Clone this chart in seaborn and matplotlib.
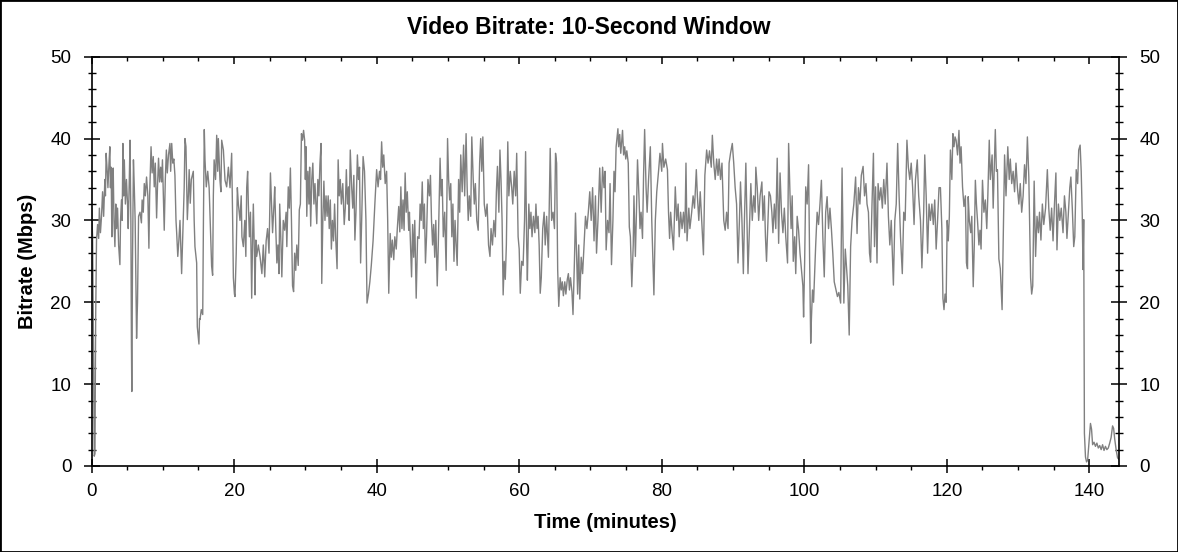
import numpy as np
import pandas as pd
import matplotlib
matplotlib.use("Agg")
import matplotlib.pyplot as plt
import seaborn as sns
from matplotlib.ticker import MultipleLocator
from matplotlib.patches import Rectangle

# (minute, Mbps) pairs, one block per ~24 minutes
part1 = [
    (0.0, 31.5), (0.15, 28), (0.3, 12), (0.38, 1.2), (0.48, 1.5), (0.58, 18),
    (0.7, 27.6), (0.85, 29.5), (1.0, 27.8), (1.1, 31.5), (1.25, 28.5), (1.4, 30.5),
    (1.55, 33.5), (1.7, 30.5), (1.87, 35), (1.95, 33), (2.05, 38.2), (2.2, 36),
    (2.3, 34), (2.45, 37), (2.57, 39), (2.65, 34), (2.75, 36.5), (2.85, 28),
    (2.95, 33), (3.04, 36.4), (3.15, 30), (3.28, 26.8), (3.4, 32), (3.51, 29),
    (3.65, 31.5), (3.8, 27), (3.98, 24.6), (4.07, 30), (4.2, 32.5), (4.3, 30),
    (4.4, 39.4), (4.5, 33), (4.6, 37.4), (4.75, 32), (4.9, 35), (5.05, 32),
    (5.15, 29), (5.3, 35), (5.4, 39.8), (5.52, 30), (5.6, 14.6), (5.65, 9.1),
    (5.75, 25), (5.88, 37.4), (6.0, 34), (6.12, 30), (6.32, 15.6), (6.45, 20),
    (6.6, 30.5), (6.8, 31), (7.0, 29.7), (7.1, 32.5), (7.26, 31), (7.4, 34.5),
    (7.55, 33), (7.72, 35.3), (7.9, 33), (8.05, 26.6), (8.15, 33), (8.25, 36),
    (8.35, 39), (8.5, 35.8), (8.66, 37.8), (8.8, 34.1), (8.95, 37), (9.13, 30.3),
    (9.25, 34), (9.4, 37.6), (9.55, 34.7), (9.7, 36.5), (9.83, 34.7), (9.95, 37.4),
    (10.07, 33), (10.2, 28.8), (10.35, 35), (10.5, 38.6), (10.63, 35.8), (10.8, 38),
    (11.0, 39.4), (11.1, 36), (11.25, 39.4), (11.4, 37), (11.55, 37.5), (11.7, 35.5),
    (11.85, 30), (11.95, 28.4), (12.1, 25.6), (12.25, 27.5), (12.41, 30), (12.55, 26),
    (12.64, 23.5), (12.75, 26.8), (12.87, 30), (13.0, 34), (13.11, 40), (13.25, 39),
    (13.44, 30.1), (13.58, 33), (13.7, 36.2), (13.85, 32.1), (14.0, 35), (14.28, 36),
    (14.4, 30), (14.51, 26.8), (14.75, 24.8), (14.84, 17), (14.95, 16), (15.07, 14.9),
    (15.15, 18), (15.22, 17.9), (15.4, 19.1), (15.6, 18.5), (15.7, 30), (15.82, 41.1),
    (15.92, 37.4), (16.1, 34.1), (16.3, 36), (16.5, 34), (16.85, 24.4), (16.99, 23.3),
    (17.09, 33), (17.2, 37.4), (17.4, 35), (17.56, 40.4), (17.7, 36), (17.79, 40),
    (18.02, 34.9), (18.15, 33.5), (18.26, 39.8), (18.5, 38.6), (18.73, 34.9), (18.96, 34.1),
    (19.2, 36.5), (19.43, 34), (19.66, 38.2), (19.8, 30), (19.9, 23), (20.05, 21),
    (20.13, 20.7), (20.3, 26), (20.46, 34), (20.6, 32), (20.83, 30), (21.0, 33),
    (21.1, 28), (21.3, 26.8), (21.5, 30), (21.65, 25.6), (21.77, 34), (21.9, 36),
    (22.0, 32), (22.15, 28), (22.3, 31), (22.47, 20.5), (22.6, 28), (22.7, 32),
    (22.85, 26), (22.94, 20.9), (23.05, 27.6), (23.17, 25.6), (23.4, 27), (23.64, 25.6),
]

part2 = [
    (23.9, 23.5), (24.1, 27), (24.3, 23.1), (24.5, 27.5), (24.7, 29), (24.9, 26),
    (25.1, 35.8), (25.3, 31), (25.4, 28.5), (25.6, 32), (25.7, 34.1), (25.85, 29),
    (26.0, 24.8), (26.15, 27), (26.3, 23.5), (26.4, 32), (26.55, 28), (26.7, 23.1),
    (26.9, 30), (27.1, 28.8), (27.3, 31), (27.4, 26.8), (27.6, 34.1), (27.75, 31.5),
    (27.9, 36.4), (28.05, 30), (28.2, 22), (28.35, 21.3), (28.5, 26), (28.65, 23.9),
    (28.8, 27), (29.0, 24.5), (29.15, 31.3), (29.3, 32), (29.45, 40.6), (29.6, 39.8),
    (29.75, 41), (29.9, 39.8), (30.0, 35), (30.1, 39), (30.2, 30.5), (30.35, 36),
    (30.5, 32), (30.6, 36.5), (30.75, 29.3), (30.9, 35), (31.05, 37), (31.2, 32),
    (31.35, 34.5), (31.6, 29.6), (31.75, 35), (31.9, 33), (32.05, 37), (32.2, 39.4),
    (32.3, 22.3), (32.45, 30), (32.6, 34.8), (32.75, 30), (32.9, 33), (33.05, 30.5),
    (33.2, 33), (33.35, 29), (33.5, 32.5), (33.65, 26.5), (33.8, 30), (33.95, 27.5),
    (34.1, 32), (34.25, 28), (34.45, 24.1), (34.6, 37.4), (34.75, 33), (34.9, 35),
    (35.05, 32), (35.25, 34.5), (35.45, 29.5), (35.6, 31.5), (35.75, 36.2), (35.9, 32),
    (36.05, 34.1), (36.15, 30), (36.3, 38.6), (36.5, 34), (36.65, 31.5), (36.8, 35.5),
    (36.95, 27.6), (37.1, 31), (37.3, 38), (37.45, 35), (37.6, 36.5), (37.75, 24.8),
    (37.9, 30), (38.1, 37.8), (38.3, 36), (38.5, 30), (38.65, 19.9), (38.85, 21),
    (39.05, 22.5), (39.25, 24.5), (39.5, 27.5), (39.75, 32), (40.0, 36.2), (40.2, 34.1),
    (40.4, 36), (40.55, 35), (40.7, 39.6), (40.85, 36.5), (41.0, 38), (41.2, 34.5),
    (41.4, 36), (41.55, 30), (41.7, 21.1), (41.9, 28.4), (42.05, 25.5), (42.2, 27.6),
    (42.4, 25.2), (42.55, 28), (42.75, 26.5), (42.9, 29), (43.1, 31.7), (43.25, 28.6),
    (43.4, 34.1), (43.55, 29), (43.7, 32.5), (43.85, 28.8), (44.0, 35.8), (44.15, 31),
    (44.3, 33.5), (44.5, 28.8), (44.6, 31), (44.9, 23.1), (45.05, 29.5), (45.2, 25.5),
    (45.35, 30), (45.55, 20.5), (45.75, 28), (45.95, 27.8), (46.1, 32), (46.25, 30),
    (46.4, 34.7), (46.55, 29), (46.7, 32), (46.85, 24.8), (47.0, 28), (47.2, 35),
    (47.4, 33),
]

part3 = [
    (47.55, 35.5), (47.7, 30), (47.85, 27), (48.0, 29.5), (48.15, 25.5), (48.3, 30),
    (48.5, 22), (48.65, 27), (48.9, 37.6), (49.05, 33), (49.2, 35), (49.35, 28),
    (49.55, 31), (49.75, 23.9), (49.95, 40), (50.1, 35), (50.25, 32.5), (50.4, 34.5),
    (50.55, 28), (50.7, 32), (50.85, 25), (51.0, 30), (51.15, 27), (51.3, 24.5),
    (51.5, 35), (51.65, 31), (51.8, 38), (52.0, 33.5), (52.2, 39.2), (52.35, 33),
    (52.55, 40.6), (52.7, 34), (52.85, 30), (53.0, 33), (53.2, 30.5), (53.35, 40.2),
    (53.55, 35), (53.7, 32), (53.85, 34.5), (54.05, 30), (54.25, 28.8), (54.45, 37),
    (54.6, 40), (54.75, 36), (54.9, 40.2), (55.1, 32), (55.3, 30.5), (55.5, 32),
    (55.7, 27), (55.9, 25.6), (56.05, 29), (56.25, 27), (56.45, 30), (56.65, 28),
    (56.8, 33.5), (56.95, 36.6), (57.15, 31), (57.3, 38.6), (57.45, 35), (57.6, 30),
    (57.75, 20.9), (57.9, 25), (58.05, 22.8), (58.2, 27), (58.4, 39.6), (58.55, 33),
    (58.75, 36), (58.95, 34), (59.1, 32), (59.3, 36), (59.5, 33), (59.65, 38.2),
    (59.85, 28), (60.0, 26.5), (60.15, 21.1), (60.35, 25), (60.55, 24.5), (60.75, 30),
    (60.9, 38.4), (61.05, 27), (61.15, 22.7), (61.35, 32), (61.5, 29), (61.65, 31),
    (61.8, 28), (62.0, 30.5), (62.2, 28.5), (62.35, 32), (62.5, 29), (62.65, 30.5),
    (62.8, 27), (62.95, 21.1), (63.1, 23), (63.3, 29), (63.5, 31), (63.65, 27),
    (63.85, 30.5), (64.1, 25.5), (64.35, 38.8), (64.55, 30), (64.75, 31), (64.95, 29),
    (65.1, 38.2), (65.25, 37), (65.4, 24), (65.55, 19.5), (65.75, 23), (65.9, 21.5),
    (66.05, 22.5), (66.2, 20.8), (66.4, 22.5), (66.55, 21), (66.75, 22.8), (66.9, 23.5),
    (67.05, 21.5), (67.2, 23), (67.4, 21.3), (67.55, 18.5), (67.75, 25), (67.9, 30.9),
    (68.05, 26), (68.2, 21), (68.35, 27), (68.5, 20.4), (68.7, 25.5), (68.9, 23.5),
    (69.1, 27), (69.3, 30.5), (69.5, 29), (69.7, 31), (69.9, 33.5), (70.1, 30),
    (70.3, 34), (70.5, 27.5), (70.7, 33), (70.85, 26), (71.05, 30), (71.3, 36.4),
]

part4 = [
    (71.5, 31), (71.7, 36.5), (71.9, 34), (72.05, 36), (72.2, 26.4), (72.4, 30),
    (72.6, 28.5), (72.75, 34.5), (72.95, 24.6), (73.15, 30), (73.3, 36), (73.45, 33.5),
    (73.6, 39), (73.85, 41.2), (73.95, 39), (74.1, 40.5), (74.25, 38.2), (74.4, 39.8),
    (74.5, 41), (74.65, 38), (74.8, 39), (74.95, 37.5), (75.1, 38.5), (75.3, 37),
    (75.45, 29.2), (75.6, 28), (75.8, 21.9), (76.0, 27), (76.1, 33), (76.3, 25.6),
    (76.45, 31), (76.6, 37.4), (76.8, 33), (76.95, 29), (77.1, 31), (77.3, 27.8),
    (77.45, 35.5), (77.6, 41.1), (77.8, 34), (77.95, 31), (78.15, 35), (78.4, 39),
    (78.6, 30), (78.9, 20.9), (79.1, 30), (79.3, 33.5), (79.55, 36), (79.75, 38.2),
    (80.0, 36), (80.1, 39.4), (80.3, 36.5), (80.55, 37.5), (80.8, 36.2), (80.95, 31),
    (81.1, 27.8), (81.25, 31), (81.45, 28.5), (81.65, 26.4), (81.9, 34.1), (82.1, 30),
    (82.3, 32), (82.45, 28), (82.65, 31), (82.85, 29), (83.05, 31), (83.25, 28.5),
    (83.4, 37), (83.55, 27.5), (83.8, 31.5), (83.95, 29), (84.2, 31), (84.4, 33),
    (84.6, 31.5), (84.85, 36.2), (85.0, 33), (85.2, 30), (85.4, 33.5), (85.6, 30),
    (85.85, 25.8), (86.05, 35.5), (86.3, 38.6), (86.5, 37), (86.7, 38.5), (86.95, 36.5),
    (87.1, 40.4), (87.3, 37), (87.5, 35), (87.7, 37.5), (87.9, 35.5), (88.05, 37.5),
    (88.25, 35), (88.45, 37), (88.7, 30), (88.9, 28.8), (89.1, 31), (89.3, 29),
    (89.45, 37), (89.65, 38.2), (89.9, 39.4), (90.1, 37), (90.3, 34), (90.5, 32),
    (90.7, 24.8), (90.9, 30), (91.05, 34.7), (91.25, 30), (91.45, 23.5), (91.6, 30),
    (91.8, 37), (91.95, 30), (92.1, 23.5), (92.3, 29), (92.5, 34.5), (92.7, 30),
    (92.9, 33), (93.1, 31), (93.2, 36.5), (93.4, 34), (93.6, 30), (93.8, 33),
    (94.05, 34.7), (94.2, 30), (94.4, 33), (94.55, 28), (94.7, 25), (94.9, 30),
    (95.05, 33.5), (95.25, 33),
]

part5 = [
    (95.45, 31), (95.6, 28.5), (95.8, 32), (96.0, 29), (96.2, 37.6), (96.4, 27.2),
    (96.6, 35.8), (96.8, 31), (97.0, 28.5), (97.2, 31.5), (97.4, 28), (97.65, 24.8),
    (97.8, 39.4), (98.0, 33), (98.15, 29), (98.3, 33), (98.45, 25), (98.65, 28),
    (98.8, 23.5), (99.0, 30.5), (99.2, 28.8), (99.4, 26), (99.6, 24), (99.8, 22),
    (99.9, 18.2), (100.05, 25), (100.2, 34.1), (100.4, 32), (100.6, 36.8), (100.75, 25),
    (100.9, 15), (101.0, 18), (101.15, 21.5), (101.3, 20), (101.45, 23.5), (101.6, 27),
    (101.8, 31), (102.0, 29.5), (102.2, 32), (102.4, 34.9), (102.6, 28), (102.8, 23.1),
    (103.0, 31), (103.2, 32.9), (103.4, 29), (103.6, 31.5), (103.8, 29), (104.0, 26),
    (104.2, 22.5), (104.45, 21.5), (104.65, 20.7), (104.85, 21.2), (105.1, 19.9), (105.3, 36.4),
    (105.55, 19.9), (105.75, 26.5), (105.95, 24), (106.1, 22), (106.3, 16), (106.5, 26.8),
    (106.7, 30), (106.95, 32), (107.2, 35.3), (107.4, 28.4), (107.6, 34), (107.8, 32),
    (108.0, 35.5), (108.25, 36.6), (108.45, 33), (108.65, 34.5), (108.8, 32), (109.0, 31),
    (109.15, 26), (109.3, 24.9), (109.5, 32), (109.7, 38.2), (109.85, 26.8), (110.0, 34.1),
    (110.2, 24.8), (110.35, 34.5), (110.55, 32.5), (110.75, 34), (110.95, 31.5), (111.15, 35),
    (111.35, 32), (111.6, 37), (111.8, 30.5), (112.0, 27), (112.2, 30), (112.5, 22.1),
    (112.7, 30), (112.9, 32), (113.1, 39.4), (113.3, 33), (113.5, 28), (113.75, 23.5),
    (113.95, 31), (114.15, 30), (114.4, 39.8), (114.6, 36.5), (114.8, 35), (115.0, 37),
    (115.2, 34), (115.4, 29.5), (115.6, 35), (115.85, 37.4), (116.05, 33), (116.3, 30),
    (116.5, 24.2), (116.75, 31), (116.9, 38), (117.1, 33), (117.3, 26), (117.5, 32),
    (117.7, 30), (117.9, 32), (118.1, 29.5), (118.3, 32.5), (118.5, 26.5), (118.7, 30),
    (118.9, 34),
]

part6 = [
    (119.1, 34), (119.3, 29), (119.45, 20.5), (119.6, 19.1), (119.75, 21), (119.9, 20),
    (120.05, 30), (120.2, 27.5), (120.35, 30.5), (120.5, 38.6), (120.7, 35), (120.85, 40.6),
    (121.0, 39), (121.15, 40.2), (121.3, 39.8), (121.5, 38), (121.7, 41), (121.85, 37),
    (122.0, 39), (122.2, 34.1), (122.4, 31.7), (122.6, 33), (122.75, 24.8), (122.9, 24.1),
    (123.0, 32.9), (123.15, 30), (123.35, 28.5), (123.5, 30.5), (123.7, 21.9), (123.85, 27),
    (124.0, 34.9), (124.15, 32), (124.3, 30), (124.5, 27), (124.65, 28.8), (124.8, 26.5),
    (125.0, 34.9), (125.2, 31), (125.4, 32.5), (125.6, 29), (125.75, 33), (125.95, 39.8),
    (126.1, 35), (126.35, 38), (126.5, 31.5), (126.8, 41.1), (126.95, 36), (127.1, 36.2),
    (127.3, 25.3), (127.5, 24.1), (127.75, 19.1), (127.95, 30), (128.1, 38), (128.3, 33),
    (128.55, 39), (128.75, 35), (128.9, 37.5), (129.1, 34.5), (129.3, 36), (129.5, 33.5),
    (129.7, 37), (129.9, 34), (130.1, 32), (130.3, 34.5), (130.5, 31), (130.7, 33),
    (130.9, 36.8), (131.1, 34.5), (131.3, 40.2), (131.5, 35.3), (131.75, 23), (131.9, 21),
    (132.05, 22), (132.25, 34.8), (132.45, 25.6), (132.65, 30.5), (132.85, 28.5), (133.0, 31),
    (133.2, 27.6), (133.4, 32), (133.6, 29.5), (133.85, 31.5), (134.1, 36.2), (134.3, 31.5),
    (134.5, 28.8), (134.7, 31.5), (134.9, 27.5), (135.1, 32), (135.3, 35.8), (135.45, 26.4),
    (135.65, 32), (135.85, 30), (136.05, 31.5), (136.3, 28.5), (136.5, 33), (136.7, 31),
    (136.85, 27.8), (137.05, 31), (137.25, 34), (137.4, 35.3), (137.6, 31.5), (137.8, 26.8),
    (137.95, 28), (138.15, 36.2), (138.35, 34.5), (138.5, 38.6), (138.7, 39.2), (138.85, 36),
    (139.0, 30.5), (139.1, 24), (139.2, 30.1), (139.3, 4), (139.45, 1.1), (139.6, 0.5),
    (139.75, 0.7), (139.95, 3), (140.15, 5.2), (140.3, 4.5), (140.45, 2.6), (140.65, 2.9),
    (140.85, 2.4), (141.05, 2.8), (141.25, 2.2), (141.45, 2.5), (141.65, 2.0), (141.85, 2.6),
    (142.05, 1.9), (142.25, 2.4), (142.45, 2.0), (142.65, 2.2), (142.85, 2.8), (143.05, 3.5),
    (143.25, 4.9), (143.4, 4.6), (143.55, 3.3), (143.75, 2.0), (143.95, 1.0), (144.15, 0.8),
    (144.3, 1.2),
]

x_ticks = [0, 20, 40, 60, 80, 100, 120, 140]
y_ticks = [0, 10, 20, 30, 40, 50]

pairs = part1 + part2 + part3 + part4 + part5 + part6
df = pd.DataFrame(pairs, columns=["minutes", "mbps"])

sns.set_style("white", rc={"axes.edgecolor": "black", "xtick.color": "black",
                           "ytick.color": "black", "text.color": "black",
                           "axes.labelcolor": "black"})
plt.rcParams["font.family"] = ["Liberation Sans", "DejaVu Sans"]

fig = plt.figure(figsize=(11.78, 5.52), dpi=100)
ax = fig.add_axes([0.0777, 0.1558, 0.8725, 0.7415])

sns.lineplot(data=df, x="minutes", y="mbps", ax=ax, color="#808080",
             linewidth=1.0, estimator=None, sort=False)

ax.set_xlim(0, 144.2)
ax.set_ylim(0, 50)
ax.set_xticks(x_ticks)
ax.set_yticks(y_ticks)
ax.xaxis.set_minor_locator(MultipleLocator(5))
ax.yaxis.set_minor_locator(MultipleLocator(2))

for s in ax.spines.values():
    s.set_visible(True)
    s.set_linewidth(1.2)
    s.set_color("black")

ax.tick_params(axis="y", which="major", direction="inout", length=11, width=1.1,
               left=True, right=True, labelleft=True, labelright=True,
               labelsize=13.5, pad=9)
ax.tick_params(axis="y", which="minor", direction="inout", length=6, width=1,
               left=True, right=True)
ax.tick_params(axis="x", which="major", direction="inout", length=10, width=1.1,
               bottom=True, top=False, labelsize=13.5, pad=7)
ax.tick_params(axis="x", which="minor", direction="out", length=3, width=1,
               bottom=True, top=False)

# top axis: inward ticks only
top = ax.twiny()
top.set_xlim(ax.get_xlim())
top.set_xticks(x_ticks)
top.xaxis.set_minor_locator(MultipleLocator(5))
top.tick_params(axis="x", which="major", direction="in", length=5, width=1.1,
                top=True, bottom=False, labeltop=False)
top.tick_params(axis="x", which="minor", direction="in", length=3, width=1,
                top=True, bottom=False)
for s in top.spines.values():
    s.set_visible(False)

ax.set_xlabel("Time (minutes)", fontsize=14.5, fontweight="bold")
ax.set_ylabel("Bitrate (Mbps)", fontsize=14.5, fontweight="bold")
ax.xaxis.label.set_va("center")
ax.xaxis.set_label_coords(0.5, -(523 - 466) / 409.3)
ax.yaxis.label.set_va("center")
ax.yaxis.label.set_ha("center")
ax.yaxis.set_label_coords(-(91.5 - 27) / 1027.8, 0.5)

fig.suptitle("Video Bitrate: 10-Second Window", x=0.5, y=1 - 27 / 552,
             va="center", fontsize=16.5, fontweight="bold")

fig.patches.append(Rectangle((0, 0), 1, 1, transform=fig.transFigure,
                             fill=False, edgecolor="black", linewidth=2))

fig.savefig("out.png", dpi=100)
